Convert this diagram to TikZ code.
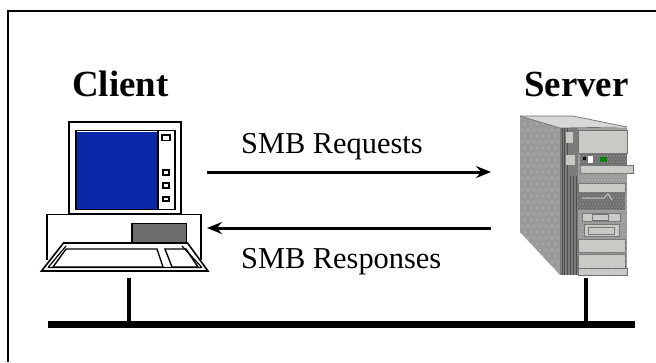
\documentclass[tikz,border=0pt]{standalone}
\usepackage{fontspec}
\setmainfont{Liberation Serif}
\usetikzlibrary{arrows.meta}
\definecolor{scrblue}{HTML}{0A28A8}
\definecolor{srvside}{HTML}{9A9A9A}
\definecolor{srvlight}{HTML}{C8C8C4}
\definecolor{srvdark}{HTML}{707070}
\definecolor{srvtop}{HTML}{D8D8D8}
\tikzset{
  pc/.style={draw=black,line width=1.6pt,fill=white,line join=miter},
  title/.style={font=\bfseries\fontsize{37}{42}\selectfont,inner sep=0pt,anchor=base},
  msg/.style={font=\fontsize{30.5}{36}\selectfont,inner sep=0pt,anchor=base west},
  flow/.style={line width=3pt,-{Stealth[length=15pt,width=12pt,inset=5pt]}},
  stem/.style={line width=3.5pt},
  busbar/.style={fill=black,inner sep=0pt,minimum width=589pt,minimum height=7.5pt},
  anchorbox/.style={inner sep=0pt,minimum width=#1pt,minimum height=1pt},
  panel/.style={fill=srvlight,draw=srvdark,line width=.6pt},
  darkpanel/.style={fill=srvdark,draw=none}
}
\begin{document}
\begin{tikzpicture}[x=1bp,y=-1bp]
\useasboundingbox (0,0) rectangle (656,362);
\fill[white] (0,0) rectangle (656,362);
% frame
\draw[line width=2.6pt,line cap=butt] (8,362) -- (8,11) -- (656,11);
% titles
\node[title] (clienttitle) at (120.5,96) {Client};
\node[title] (servertitle) at (576.5,96) {Server};
% client monitor
\draw[pc] (69,122) rectangle (181,214);
\draw[pc] (76,130.5) rectangle (175,209.5);
\fill[scrblue] (77,131.5) rectangle (158,208.5);
\draw[black,line width=1.6pt] (158,131) -- (158,209);
\draw[black,line width=1.4pt] (162,135) rectangle (170,140.5);
\draw[black,line width=1.4pt] (163,170) rectangle (169,175);
\draw[black,line width=1.4pt] (163,183) rectangle (169,188);
\draw[black,line width=1.4pt] (163,197) rectangle (169,201);
% client base
\draw[pc] (47,260) -- (47,214.5) -- (201,214.5) -- (201,260);
\fill[gray!85!black] (132,223.5) rectangle (186.5,243);
\draw[black,line width=1.4pt] (132,243) -- (132,223.5) -- (186.5,223.5) -- (186.5,243);
% keyboard
\draw[pc] (41.5,271) -- (63.5,243) -- (187.5,243) -- (208,271) -- cycle;
\draw[black,line width=1.2pt] (48,267.5) -- (66,246) (182,246) -- (202,267.5) (48,267.5) -- (202,267.5);
\draw[black,line width=1.4pt] (53,267) -- (66,249) -- (157,249) -- (163,267) -- cycle;
\draw[black,line width=1.4pt] (165,249) -- (186,249) -- (198,267) -- (172,267) -- cycle;
\node[anchorbox=2] (clientbottom) at (129,277) {};
\node[anchorbox=2] (serverbottom) at (586,277) {};
% server
\fill[srvside] (520,116) -- (560,128) -- (560,275) -- (520,232) -- cycle;
\begin{scope}
\clip (520,116) -- (560,128) -- (560,275) -- (520,232) -- cycle;
\foreach \i in {0,...,6}{\foreach \j in {0,...,27}{
  \fill[white!80!cyan] ({522+\i*6+mod(\j,2)*3},{118+\j*6}) circle (.7);
}}
\end{scope}
\fill[srvtop] (520,116) -- (573,116) -- (627,127) -- (560,128) -- cycle;
\draw[srvdark,line width=.7pt] (520,116) -- (560,128) -- (627,127);
\draw[srvdark,line width=.7pt] (520,116) -- (573,116) -- (627,127);
\fill[srvside!80!black] (560,128) rectangle (578,275);
\foreach \k in {0,...,5}{\draw[srvdark!70!black,line width=.7pt] ({562+\k*2.8},176) -- ({562+\k*2.8},275);}
\foreach \k in {0,1,2}{\draw[srvdark!70!black,line width=.7pt] ({562+\k*2.8},128) -- ({562+\k*2.8},176);}
\fill[srvlight] (566,132) rectangle (573,143);
\fill[srvlight] (566,155) rectangle (575,165);
\fill[srvside] (578,128) rectangle (627,275);
\draw[panel] (578,130) rectangle (627,153);
\fill[darkpanel] (580,153) rectangle (627,165);
\fill[white] (588,156) rectangle (593,163);
\fill[black] (583,157) rectangle (586,160);
\fill[green!50!black] (600,157) rectangle (607,162);
\draw[panel] (580,165) rectangle (633,173);
\draw[panel] (578,183) rectangle (625,192);
\fill[darkpanel] (578,192) rectangle (625,210);
\draw[srvlight,line width=1pt] (582,198) -- (604,198) -- (608,194) -- (612,200);
\draw[panel] (582,213) rectangle (620,221);
\draw[srvdark,line width=1pt] (592,214) rectangle (608,220);
\draw[panel] (584,224) rectangle (619,236);
\draw[srvdark,line width=.8pt] (588,227) rectangle (614,234);
\draw[panel] (578,239) rectangle (625,252);
\draw[panel] (578,254) rectangle (625,268);
\draw[panel] (578,268) rectangle (627,275);
\foreach \i in {0,...,15}{\foreach \j in {0,...,48}{
  \fill[white!70!srvlight] ({579+\i*3+mod(\j,2)*1.5},{129+\j*3}) circle (.35);
}}
% network
\node[busbar] (bus) at (341.5,324.5) {};
\draw[stem] (clientbottom.south) -- (clientbottom.south |- bus.north);
\draw[stem] (serverbottom.south) -- (serverbottom.south |- bus.north);
% messages
\coordinate (clientreq) at (207,172);
\coordinate (serverreq) at (491,172);
\coordinate (clientresp) at (207,228);
\coordinate (serverresp) at (491,228);
\draw[flow] (clientreq) -- (serverreq);
\draw[flow] (serverresp) -- (clientresp);
\node[msg] (reqlabel) at (241,153) {SMB Requests};
\node[msg] (resplabel) at (241,268) {SMB Responses};
\end{tikzpicture}
\end{document}
